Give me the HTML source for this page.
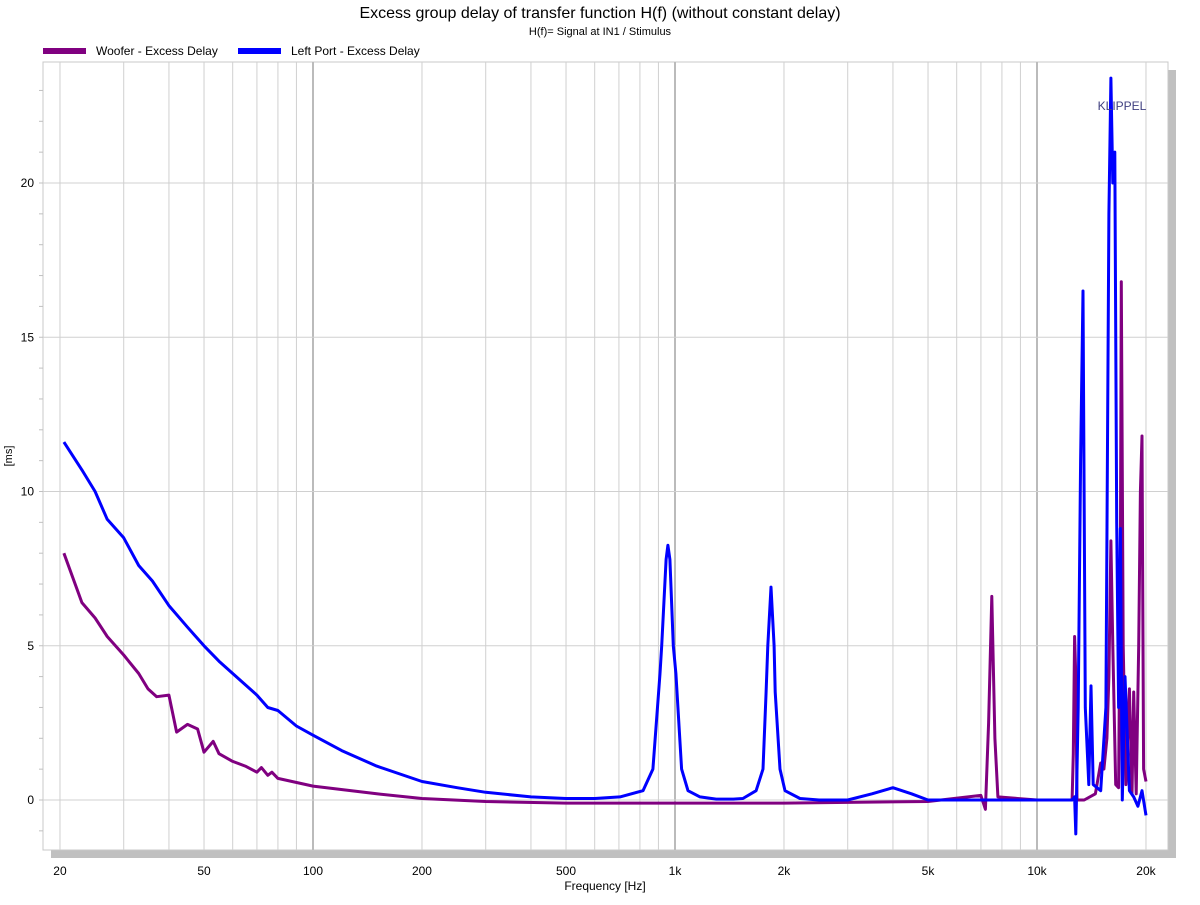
<!DOCTYPE html>
<html><head><meta charset="utf-8"><style>
body{margin:0;background:#fff;font-family:"Liberation Sans",sans-serif;}
svg text{font-family:"Liberation Sans",sans-serif;}
</style></head><body>
<svg id="chart" width="1200" height="900" xmlns="http://www.w3.org/2000/svg">
<text x="600" y="18" font-size="16" text-anchor="middle">Excess group delay of transfer function H(f) (without constant delay)</text>
<text x="600" y="35" font-size="11" text-anchor="middle">H(f)= Signal at IN1 / Stimulus</text>
<g>
<rect x="43" y="48" width="43" height="6" fill="#800080"/>
<text x="96" y="55" font-size="12">Woofer - Excess Delay</text>
<rect x="238" y="48" width="43" height="6" fill="#0000ff"/>
<text x="291" y="55" font-size="12">Left Port - Excess Delay</text>
</g>
<rect x="51" y="850" width="1125" height="8" fill="#c0c0c0"/>
<rect x="1168" y="70" width="8" height="788" fill="#c0c0c0"/>
<rect x="43" y="62" width="1125" height="788" fill="#fff" stroke="#c8c8c8"/>
<g id="grid"></g>
<g id="ticks"></g>
<g id="series"></g>
<text x="1122" y="110" font-size="12" fill="#404080" text-anchor="middle">KLIPPEL</text>
<text x="0" y="0" font-size="11" transform="translate(12,456) rotate(-90)" text-anchor="middle">[ms]</text>
<text x="605" y="890" font-size="12" text-anchor="middle">Frequency [Hz]</text>
</svg>
<script>
const xTicks=[20,50,100,200,500,1000,2000,5000,10000,20000];
const xTickLabels=["20","50","100","200","500","1k","2k","5k","10k","20k"];
const yTicks=[0,5,10,15,20];
const wooferF=[20.5,23,25,27,30,33,35,37,40,42,45,48,50,53,55,60,65,70,72,75,77,80,100,150,200,300,500,1000,2000,5000,7000,7200,7350,7500,7650,7800,10000,12000,12500,12600,12700,12800,12900,13500,14500,15000,15300,15600,15800,16000,16200,16500,16800,17000,17100,17300,17600,18000,18300,18500,18800,19100,19300,19500,19700,20000];
const wooferV=[8.0,6.4,5.9,5.3,4.7,4.1,3.6,3.35,3.4,2.2,2.45,2.3,1.55,1.9,1.5,1.25,1.1,0.9,1.05,0.8,0.9,0.7,0.45,0.2,0.05,-0.05,-0.1,-0.1,-0.1,-0.05,0.15,-0.3,2.5,6.6,2.0,0.1,0,0,0,1.5,5.3,4,0,0,0.2,1.2,1.0,2.0,4,8.4,5,0.5,0.4,8,16.8,5,0.5,3.6,0.2,3.5,0.2,5,10,11.8,1,0.6];
const portF=[20.5,23,25,27,30,33,36,40,45,50,55,60,70,75,80,90,100,120,150,200,250,300,400,500,600,705,816,869,909,919,945,956,968,989,1006,1043,1086,1172,1300,1450,1540,1675,1750,1785,1804,1842,1878,1891,1950,2013,2215,2500,3000,3500,4000,4500,5000,10000,12000,12500,12700,12800,13000,13200,13400,13600,13900,14100,14300,15000,15500,15800,16000,16200,16400,16600,16800,17000,17200,17500,18000,18500,19000,19500,20000];
const portV=[11.6,10.7,10.0,9.1,8.5,7.6,7.1,6.3,5.6,5.0,4.5,4.1,3.4,3.0,2.9,2.4,2.1,1.6,1.1,0.6,0.4,0.25,0.1,0.05,0.05,0.1,0.3,1.0,4.1,5.0,7.8,8.26,7.8,5.0,4.1,1.0,0.3,0.1,0.03,0.03,0.05,0.3,1.0,3.5,5.0,6.9,5.0,3.5,1.0,0.3,0.05,0.0,0.0,0.2,0.4,0.2,0.0,0,0,0.0,0.1,-1.1,3,11,16.5,3,0.5,3.7,0.5,0.3,3,19,23.4,20,21,9,3,8.8,0,4,0.3,0.1,-0.2,0.3,-0.5];
const NS="http://www.w3.org/2000/svg";
const L=43,R=1168,T=62,B=850;
const X=f=>675+362*(Math.log10(f)-3);
const Y=v=>800-30.85*v;
function mk(tag,attrs,parent){const e=document.createElementNS(NS,tag);for(const k in attrs)e.setAttribute(k,attrs[k]);parent.appendChild(e);return e;}
const grid=document.getElementById('grid'),ticks=document.getElementById('ticks'),series=document.getElementById('series');
for(let d=10;d<=10000;d*=10){for(let m=1;m<10;m++){const f=d*m;if(f<20||f>22000)continue;const x=X(f);
 const major=(m===1);
 const g=mk('line',{x1:x,x2:x,y1:T,y2:B,stroke:major?'#bbbbbb':'#d0d0d0','stroke-width':major?2:1},grid);
 
 }}
yTicks.forEach(v=>{const y=Y(v);
 const g=mk('line',{x1:L,x2:R,y1:y,y2:y,stroke:'#d0d0d0','stroke-width':1},grid);
 
 
 const t=mk('text',{x:34,y:y+4,'font-size':12,'text-anchor':'end'},ticks);t.textContent=String(v);
 
 });
for(let v=-1;v<=23;v++){const y=Y(v);
 const t=mk('line',{x1:39,x2:43,y1:y,y2:y,stroke:'#c0c0c0'},ticks);
 
 }
xTicks.forEach((f,i)=>{const t=mk('text',{x:X(f),y:875,'font-size':12,'text-anchor':'middle'},ticks);t.textContent=xTickLabels[i];
 
 });
function line(F,V,color,name){const d=F.map((f,i)=>(i?'L':'M')+X(f).toFixed(1)+','+Y(V[i]).toFixed(1)).join('');
 const p=mk('path',{d:d,fill:'none',stroke:color,'stroke-width':3,'stroke-linejoin':'round'},series);
 
 }
line(wooferF,wooferV,'#800080','woofer-excess-delay-line');
line(portF,portV,'#0000ff','left-port-excess-delay-line');
</script>
</body></html>
